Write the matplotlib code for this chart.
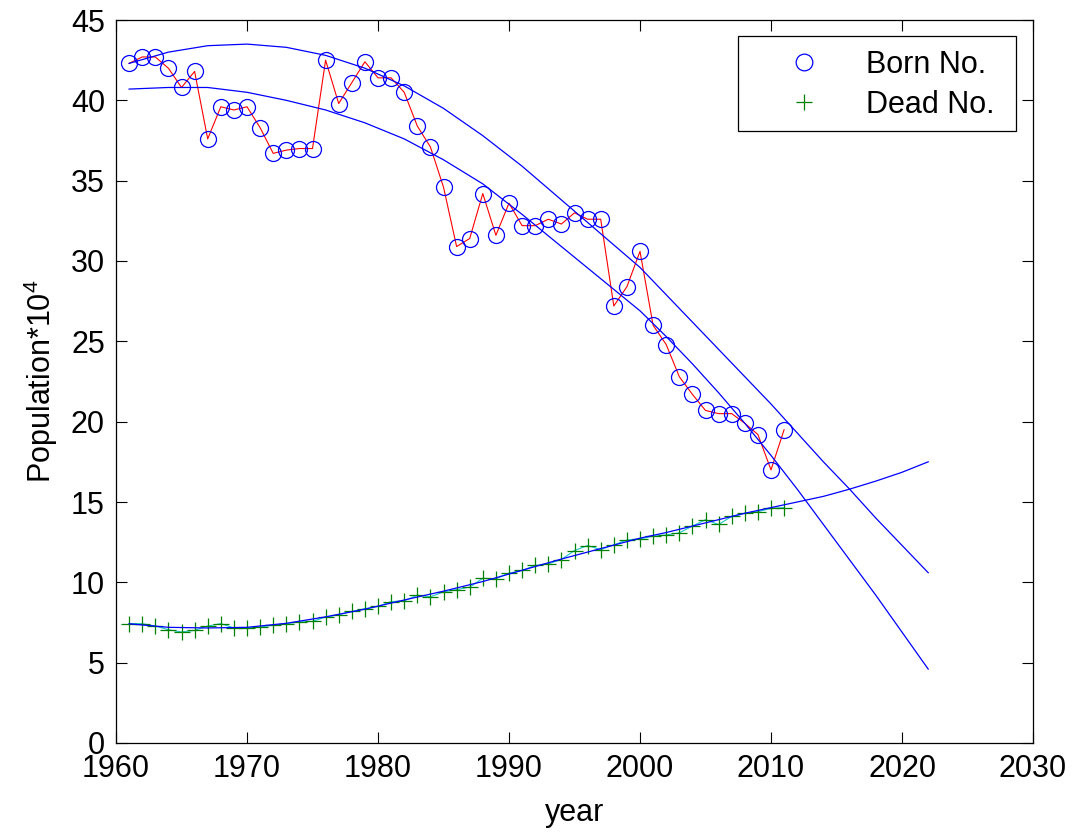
import numpy as np
import matplotlib.pyplot as plt
from matplotlib.lines import Line2D
from matplotlib.patches import Rectangle

plt.rcParams['font.family'] = ['Liberation Sans', 'DejaVu Sans']
plt.rcParams['mathtext.fontset'] = 'custom'
plt.rcParams['mathtext.rm'] = 'Liberation Sans'

years = np.arange(1961, 2012)
born = [42.3, 42.7, 42.7, 42.0, 40.8, 41.8, 37.6, 39.6, 39.4, 39.6,
        38.3, 36.7, 36.9, 37.0, 37.0, 42.5, 39.8, 41.1, 42.4, 41.4,
        41.4, 40.5, 38.4, 37.1, 34.6, 30.9, 31.4, 34.2, 31.6, 33.6,
        32.2, 32.2, 32.6, 32.3, 33.0, 32.6, 32.6, 27.2, 28.4, 30.6,
        26.0, 24.8, 22.8, 21.7, 20.7, 20.5, 20.5, 19.9, 19.2, 17.0,
        19.5]
dead = [7.43, 7.43, 7.28, 7.05, 6.91, 7.01, 7.28, 7.43, 7.16, 7.16,
        7.22, 7.33, 7.43, 7.53, 7.57, 7.84, 7.99, 8.19, 8.36, 8.50,
        8.80, 8.85, 9.20, 9.10, 9.40, 9.55, 9.70, 10.25, 10.22, 10.57,
        10.74, 11.05, 11.15, 11.42, 11.98, 12.29, 12.04, 12.33, 12.64, 12.70,
        12.87, 12.95, 13.08, 13.50, 13.90, 13.60, 14.10, 14.30, 14.40, 14.60,
        14.65]

# fitted curves
fit_years = [1961, 1964, 1967, 1970, 1973, 1976, 1979, 1982, 1985, 1988,
             1991, 1994, 1997, 2000, 2002, 2004, 2006, 2008, 2010, 2012,
             2014, 2016, 2018, 2020, 2022]
born_fit_upper = [42.3, 43.0, 43.4, 43.5, 43.3, 42.8, 42.0, 40.9, 39.5, 37.8,
                  35.9, 33.8, 31.7, 29.6, 27.9, 26.2, 24.5, 22.8, 21.1, 19.3,
                  17.5, 15.8, 14.0, 12.3, 10.6]
born_fit_lower = [40.7, 40.8, 40.8, 40.5, 40.0, 39.4, 38.6, 37.6, 36.3, 34.8,
                  32.9, 30.9, 28.9, 26.9, 25.3, 23.6, 21.8, 19.9, 17.9, 15.8,
                  13.6, 11.4, 9.2, 6.9, 4.6]
dead_fit = [7.42, 7.20, 7.16, 7.20, 7.45, 7.85, 8.33, 8.90, 9.45, 10.05,
            10.75, 11.45, 12.10, 12.75, 13.10, 13.50, 13.90, 14.30, 14.65, 15.00,
            15.35, 15.80, 16.30, 16.85, 17.50]

fig = plt.figure(figsize=(10.76, 8.33), dpi=100)
ax = fig.add_axes([116 / 1076, 1 - 743 / 833, 917 / 1076, 723 / 833])

ax.plot(years, born, color='red', lw=0.8, zorder=2)
ax.plot(years, born, 'o', ms=11.5, mfc='none', mec='blue', mew=0.9, zorder=3)
ax.plot(years, dead, color='#20c8c8', lw=0.8, zorder=2)
ax.plot(years, dead, '+', ms=12, mec='#008000', mew=0.9, zorder=3)

ax.plot(fit_years, born_fit_upper, color='blue', lw=0.9, zorder=4)
ax.plot(fit_years, born_fit_lower, color='blue', lw=0.9, zorder=4)
ax.plot(fit_years, dead_fit, color='blue', lw=0.9, zorder=4)

ax.set_xlim(1960, 2030)
ax.set_ylim(0, 45)
ax.set_xticks(np.arange(1960, 2031, 10))
ax.set_yticks(np.arange(0, 46, 5))
ax.tick_params(direction='in', top=True, right=True, length=8, width=0.8,
               labelsize=22, pad=8)
for s in ax.spines.values():
    s.set_linewidth(0.9)

ax.set_xlabel('year', fontsize=22, labelpad=10)
ax.set_ylabel('Population*10$^4$', fontsize=22, labelpad=8)

# MATLAB-style legend: markers only, framed box
handles = [Line2D([], [], ls='none', marker='o', ms=12, mfc='none', mec='blue', mew=0.9),
           Line2D([], [], ls='none', marker='+', ms=12, mec='#008000', mew=0.9)]
leg = ax.legend(handles, ['Born No.', 'Dead No.'], loc='upper left',
                bbox_to_anchor=(738 / 1076, 1 - 40.5 / 833),
                bbox_transform=fig.transFigure, borderaxespad=0,
                fontsize=22, handlelength=3.7, handletextpad=0.19,
                borderpad=0.3, labelspacing=0.34, frameon=False)
fig.add_artist(Rectangle((738 / 1076, 1 - 131 / 833), 277.7 / 1076, 95.3 / 833,
                         transform=fig.transFigure, fill=False,
                         ec='black', lw=0.9))

fig.savefig('out.png', dpi=100)
